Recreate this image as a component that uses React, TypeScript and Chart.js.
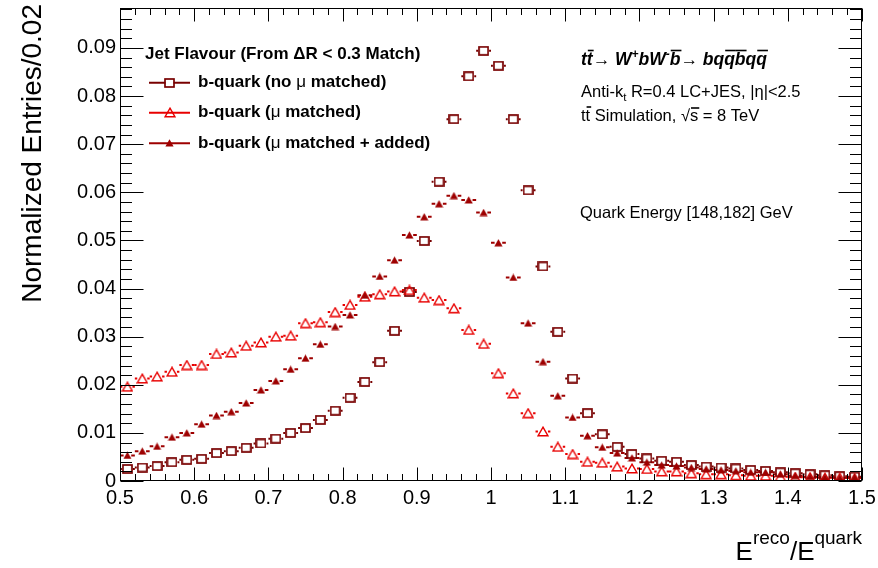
import React, { useEffect, useRef } from "react";
import { Chart, registerables } from "chart.js";

Chart.register(...registerables);

const binCenters = [
  0.51, 0.53, 0.55, 0.57, 0.59, 0.61, 0.63, 0.65, 0.67, 0.69,
  0.71, 0.73, 0.75, 0.77, 0.79, 0.81, 0.83, 0.85, 0.87, 0.89,
  0.91, 0.93, 0.95, 0.97, 0.99, 1.01, 1.03, 1.05, 1.07, 1.09,
  1.11, 1.13, 1.15, 1.17, 1.19, 1.21, 1.23, 1.25, 1.27, 1.29,
  1.31, 1.33, 1.35, 1.37, 1.39, 1.41, 1.43, 1.45, 1.47, 1.49,
];

const noMuMatched = [
  0.0025, 0.0028, 0.0031, 0.0039, 0.0044, 0.0046, 0.0058, 0.0062, 0.0069, 0.0078,
  0.0088, 0.0100, 0.0110, 0.0127, 0.0146, 0.0173, 0.0206, 0.0247, 0.0312, 0.0393,
  0.0499, 0.0622, 0.0752, 0.0841, 0.0894, 0.0863, 0.0752, 0.0604, 0.0446, 0.0310,
  0.0213, 0.0141, 0.0097, 0.0071, 0.0056, 0.0047, 0.0042, 0.0040, 0.0033, 0.0030,
  0.0028, 0.0026, 0.0023, 0.0021, 0.0018, 0.0016, 0.0014, 0.0012, 0.0010, 0.0009,
];

const muMatched = [
  0.0196, 0.0213, 0.0217, 0.0227, 0.0241, 0.0241, 0.0264, 0.0267, 0.0281, 0.0288,
  0.0300, 0.0302, 0.0328, 0.0330, 0.0351, 0.0366, 0.0383, 0.0388, 0.0394, 0.0397,
  0.0381, 0.0376, 0.0359, 0.0314, 0.0285, 0.0224, 0.0182, 0.0141, 0.0103, 0.0071,
  0.0056, 0.0040, 0.0038, 0.0030, 0.0026, 0.0025, 0.0020, 0.0020, 0.0016, 0.0014,
  0.0014, 0.0012, 0.0011, 0.0011, 0.0009, 0.0008, 0.0008, 0.0007, 0.0007, 0.0006,
];

const muMatchedAdded = [
  0.0053, 0.0062, 0.0072, 0.0091, 0.0100, 0.0118, 0.0136, 0.0144, 0.0162, 0.0189,
  0.0208, 0.0232, 0.0255, 0.0284, 0.0321, 0.0345, 0.0386, 0.0425, 0.0459, 0.0511,
  0.0549, 0.0576, 0.0593, 0.0584, 0.0558, 0.0495, 0.0423, 0.0328, 0.0248, 0.0177,
  0.0132, 0.0094, 0.0070, 0.0058, 0.0048, 0.0039, 0.0033, 0.0031, 0.0028, 0.0025,
  0.0023, 0.0021, 0.0018, 0.0018, 0.0014, 0.0011, 0.0009, 0.0008, 0.0007, 0.0008,
];

const xTickValues = [0.5, 0.6, 0.7, 0.8, 0.9, 1.0, 1.1, 1.2, 1.3, 1.4, 1.5];
const xTickLabels = ["0.5", "0.6", "0.7", "0.8", "0.9", "1", "1.1", "1.2", "1.3", "1.4", "1.5"];
const yTickValues = [0, 0.01, 0.02, 0.03, 0.04, 0.05, 0.06, 0.07, 0.08, 0.09];
const yTickLabels = ["0", "0.01", "0.02", "0.03", "0.04", "0.05", "0.06", "0.07", "0.08", "0.09"];

const legendHeader = "Jet Flavour (From \u0394R < 0.3 Match)";
const seriesLabels = [
  ["b-quark (no ", "\u03bc", " matched)"],
  ["b-quark (", "\u03bc", " matched)"],
  ["b-quark (", "\u03bc", " matched + added)"],
];
const yTitle = "Normalized Entries/0.02";
const energyLabel = "Quark Energy [148,182] GeV";

const X_MIN = 0.5;
const X_MAX = 1.5;
const Y_MIN = 0;
const Y_MAX = 0.0983;
const BIN_HALF = 0.01;

const COL_SQ = "#780000";
const COL_OPEN = "#e80000";
const COL_FILL = "#9e0000";
const FONT = "'Liberation Sans', Arial, Helvetica, sans-serif";

type Seg = { t: string; font: string; dy?: number; over?: boolean; overH?: number };

function measureSegs(ctx: CanvasRenderingContext2D, segs: Seg[]) {
  let w = 0;
  for (const s of segs) {
    ctx.font = s.font;
    w += ctx.measureText(s.t).width;
  }
  return w;
}

function drawSegs(ctx: CanvasRenderingContext2D, x: number, y: number, segs: Seg[]) {
  let cx = x;
  for (const s of segs) {
    ctx.font = s.font;
    const w = ctx.measureText(s.t).width;
    ctx.fillText(s.t, cx, y + (s.dy || 0));
    if (s.over) {
      const oy = y + (s.dy || 0) - (s.overH || 13);
      ctx.beginPath();
      ctx.lineWidth = 1.6;
      ctx.moveTo(cx + 1, oy);
      ctx.lineTo(cx + w + 1, oy);
      ctx.stroke();
    }
    cx += w;
  }
  return cx;
}

function makeOpenSquare(color: string) {
  const c = document.createElement("canvas");
  c.width = 11;
  c.height = 10;
  const g = c.getContext("2d")!;
  g.strokeStyle = color;
  g.lineWidth = 1.7;
  g.strokeRect(1, 1, 9, 8);
  return c;
}

function makeOpenTriangle(color: string) {
  const c = document.createElement("canvas");
  c.width = 12;
  c.height = 11;
  const g = c.getContext("2d")!;
  g.strokeStyle = color;
  g.lineWidth = 1.4;
  g.beginPath();
  g.moveTo(6, 1.2);
  g.lineTo(11, 9.8);
  g.lineTo(1, 9.8);
  g.closePath();
  g.stroke();
  return c;
}

function makeFilledTriangle(color: string) {
  const c = document.createElement("canvas");
  c.width = 9;
  c.height = 8;
  const g = c.getContext("2d")!;
  g.fillStyle = color;
  g.beginPath();
  g.moveTo(4.5, 0.3);
  g.lineTo(8.6, 7.5);
  g.lineTo(0.4, 7.5);
  g.closePath();
  g.fill();
  return c;
}

export default function App() {
  const ref = useRef<HTMLCanvasElement | null>(null);

  useEffect(() => {
    document.body.style.margin = "0";
    const canvas = ref.current;
    if (!canvas) return;

    const sq = makeOpenSquare(COL_SQ);
    const ot = makeOpenTriangle(COL_OPEN);
    const ft = makeFilledTriangle(COL_FILL);
    const gaps = [5.5, 5, 3.8];
    const colors = [COL_SQ, COL_OPEN, COL_FILL];
    const images = [sq, ot, ft];

    const errorBars = {
      id: "errorBars",
      beforeDatasetsDraw(chart: any) {
        const ctx = chart.ctx as CanvasRenderingContext2D;
        const xs = chart.scales.x;
        ctx.save();
        ctx.lineWidth = 2;
        chart.data.datasets.forEach((ds: any, di: number) => {
          const meta = chart.getDatasetMeta(di);
          ctx.strokeStyle = colors[di];
          meta.data.forEach((pt: any, i: number) => {
            const xl = xs.getPixelForValue(binCenters[i] - BIN_HALF);
            const xr = xs.getPixelForValue(binCenters[i] + BIN_HALF);
            const g = gaps[di];
            ctx.beginPath();
            ctx.moveTo(xl, pt.y);
            ctx.lineTo(pt.x - g, pt.y);
            ctx.moveTo(pt.x + g, pt.y);
            ctx.lineTo(xr, pt.y);
            ctx.stroke();
          });
        });
        ctx.restore();
      },
    };

    const decor = {
      id: "decor",
      afterDraw(chart: any) {
        const ctx = chart.ctx as CanvasRenderingContext2D;
        const ca = chart.chartArea;
        const xs = chart.scales.x;
        const ys = chart.scales.y;
        ctx.save();
        ctx.strokeStyle = "#000";
        ctx.lineWidth = 1;
        const L = Math.round(ca.left) + 0.5;
        const R = Math.round(ca.right) - 0.5;
        const T = Math.round(ca.top) + 0.5;
        const B = Math.round(ca.bottom) - 0.5;
        ctx.strokeRect(L, T, R - L, B - T);
        ctx.beginPath();
        for (let k = 0; k <= 50; k++) {
          const v = X_MIN + k * 0.02;
          const px = Math.round(xs.getPixelForValue(v)) + 0.5;
          const len = k % 5 === 0 ? 13 : 6.5;
          ctx.moveTo(px, B);
          ctx.lineTo(px, B - len);
          ctx.moveTo(px, T);
          ctx.lineTo(px, T + len);
        }
        for (let k = 0; k <= 49; k++) {
          const v = Y_MIN + k * 0.002;
          const py = Math.round(ys.getPixelForValue(v)) + 0.5;
          const len = k % 5 === 0 ? 23 : 11.5;
          ctx.moveTo(L, py);
          ctx.lineTo(L + len, py);
          ctx.moveTo(R, py);
          ctx.lineTo(R - len, py);
        }
        ctx.stroke();

        // Y title
        ctx.fillStyle = "#000";
        ctx.save();
        ctx.translate(41, 4);
        ctx.rotate(-Math.PI / 2);
        ctx.font = `28px ${FONT}`;
        ctx.textAlign = "right";
        ctx.textBaseline = "alphabetic";
        ctx.fillText(yTitle, 0, 0);
        ctx.restore();

        // X title
        ctx.textAlign = "left";
        ctx.textBaseline = "alphabetic";
        const big = `26px ${FONT}`;
        const small = `19px ${FONT}`;
        const xt: Seg[] = [
          { t: "E", font: big },
          { t: "reco", font: small, dy: -16 },
          { t: "/E", font: big },
          { t: "quark", font: small, dy: -16 },
        ];
        const xw = measureSegs(ctx, xt);
        drawSegs(ctx, 862 - xw, 560, xt);

        // Legend
        ctx.font = `bold 17px ${FONT}`;
        ctx.textBaseline = "middle";
        ctx.fillText(legendHeader, 145, 54);
        const rows = [82.7, 112.7, 143.3];
        rows.forEach((ry, i) => {
          ctx.strokeStyle = colors[i];
          ctx.lineWidth = 2;
          ctx.beginPath();
          ctx.moveTo(149, ry);
          ctx.lineTo(190, ry);
          ctx.stroke();
          const img = images[i];
          if (i === 0) {
            ctx.fillStyle = "#fff";
            ctx.fillRect(169.5 - 4, ry - 3.5, 8, 7);
          }
          ctx.drawImage(img, Math.round(169.5 - img.width / 2), Math.round(ry - img.height / 2));
          ctx.fillStyle = "#000";
          const parts = seriesLabels[i];
          const segs: Seg[] = [
            { t: parts[0], font: `bold 17px ${FONT}` },
            { t: parts[1], font: `17px ${FONT}` },
            { t: parts[2], font: `bold 17px ${FONT}` },
          ];
          ctx.textBaseline = "middle";
          drawSegs(ctx, 198, ry, segs);
        });

        // Right-side annotations
        ctx.fillStyle = "#000";
        ctx.strokeStyle = "#000";
        ctx.textBaseline = "alphabetic";
        const bi = `italic bold 17.5px ${FONT}`;
        const nr = `17.5px ${FONT}`;
        const supF = `italic bold 12px ${FONT}`;
        const l1: Seg[] = [
          { t: "t", font: bi },
          { t: "t", font: bi, over: true, overH: 14.5 },
          { t: "\u2192 ", font: nr },
          { t: "W", font: bi },
          { t: "+", font: supF, dy: -7 },
          { t: "bW", font: bi },
          { t: "-", font: supF, dy: -7 },
          { t: "b", font: bi, over: true, overH: 14.5 },
          { t: "\u2192 ", font: nr },
          { t: "bq", font: bi },
          { t: "q", font: bi, over: true, overH: 14.5 },
          { t: "b", font: bi, over: true, overH: 14.5 },
          { t: "q", font: bi },
          { t: "q", font: bi, over: true, overH: 14.5 },
        ];
        drawSegs(ctx, 581, 65, l1);

        const nf = `16.5px ${FONT}`;
        const subF = `11.5px ${FONT}`;
        const l2: Seg[] = [
          { t: "Anti-k", font: nf },
          { t: "t", font: subF, dy: 4 },
          { t: " R=0.4 LC+JES, |\u03b7|<2.5", font: nf },
        ];
        drawSegs(ctx, 581, 97, l2);

        const l3: Seg[] = [
          { t: "t", font: nf },
          { t: "t", font: nf, over: true, overH: 14 },
          { t: " Simulation, ", font: nf },
          { t: "\u221a", font: nf },
          { t: "s", font: nf, over: true, overH: 13 },
          { t: " = 8 TeV", font: nf },
        ];
        drawSegs(ctx, 581, 121, l3);

        ctx.font = `16.5px ${FONT}`;
        ctx.fillText(energyLabel, 580, 218);
        ctx.restore();
      },
    };

    const mk = (vals: number[]) => binCenters.map((x, i) => ({ x, y: vals[i] }));

    const chart = new Chart(canvas, {
      type: "scatter",
      data: {
        datasets: [
          { label: "no mu", data: mk(noMuMatched), pointStyle: sq as any, pointRadius: 5, showLine: false, order: 3 },
          { label: "mu", data: mk(muMatched), pointStyle: ot as any, pointRadius: 5, showLine: false, order: 2 },
          { label: "mu added", data: mk(muMatchedAdded), pointStyle: ft as any, pointRadius: 5, showLine: false, order: 1 },
        ],
      },
      options: {
        animation: false,
        responsive: false,
        maintainAspectRatio: false,
        layout: { padding: { left: 0, right: 16, top: 8, bottom: 0 } },
        plugins: { legend: { display: false }, tooltip: { enabled: false } },
        scales: {
          x: {
            type: "linear",
            min: X_MIN,
            max: X_MAX,
            afterFit(s: any) {
              s.height = 87;
              s.paddingLeft = 0;
              s.paddingRight = 0;
            },
            afterBuildTicks(s: any) {
              s.ticks = xTickValues.map((v) => ({ value: v }));
            },
            grid: { display: false, drawTicks: false },
            border: { display: false },
            ticks: {
              color: "#000",
              font: { family: FONT, size: 20 },
              padding: 5,
              maxRotation: 0,
              autoSkip: false,
              callback: (v: any) => {
                const i = xTickValues.findIndex((t) => Math.abs(t - Number(v)) < 1e-9);
                return i >= 0 ? xTickLabels[i] : "";
              },
            },
          },
          y: {
            type: "linear",
            min: Y_MIN,
            max: Y_MAX,
            afterFit(s: any) {
              s.width = 120;
              s.paddingTop = 0;
              s.paddingBottom = 0;
            },
            afterBuildTicks(s: any) {
              s.ticks = yTickValues.map((v) => ({ value: v }));
            },
            grid: { display: false, drawTicks: false },
            border: { display: false },
            ticks: {
              color: "#000",
              font: { family: FONT, size: 20 },
              padding: 4,
              autoSkip: false,
              callback: (v: any) => {
                const i = yTickValues.findIndex((t) => Math.abs(t - Number(v)) < 1e-9);
                return i >= 0 ? yTickLabels[i] : "";
              },
            },
          },
        },
      },
      plugins: [errorBars, decor],
    });

    return () => chart.destroy();
  }, []);

  return (
    <div style={{ width: 878, height: 568, background: "#fff" }}>
      <canvas ref={ref} width={878} height={568} style={{ width: 878, height: 568, display: "block" }} />
    </div>
  );
}
